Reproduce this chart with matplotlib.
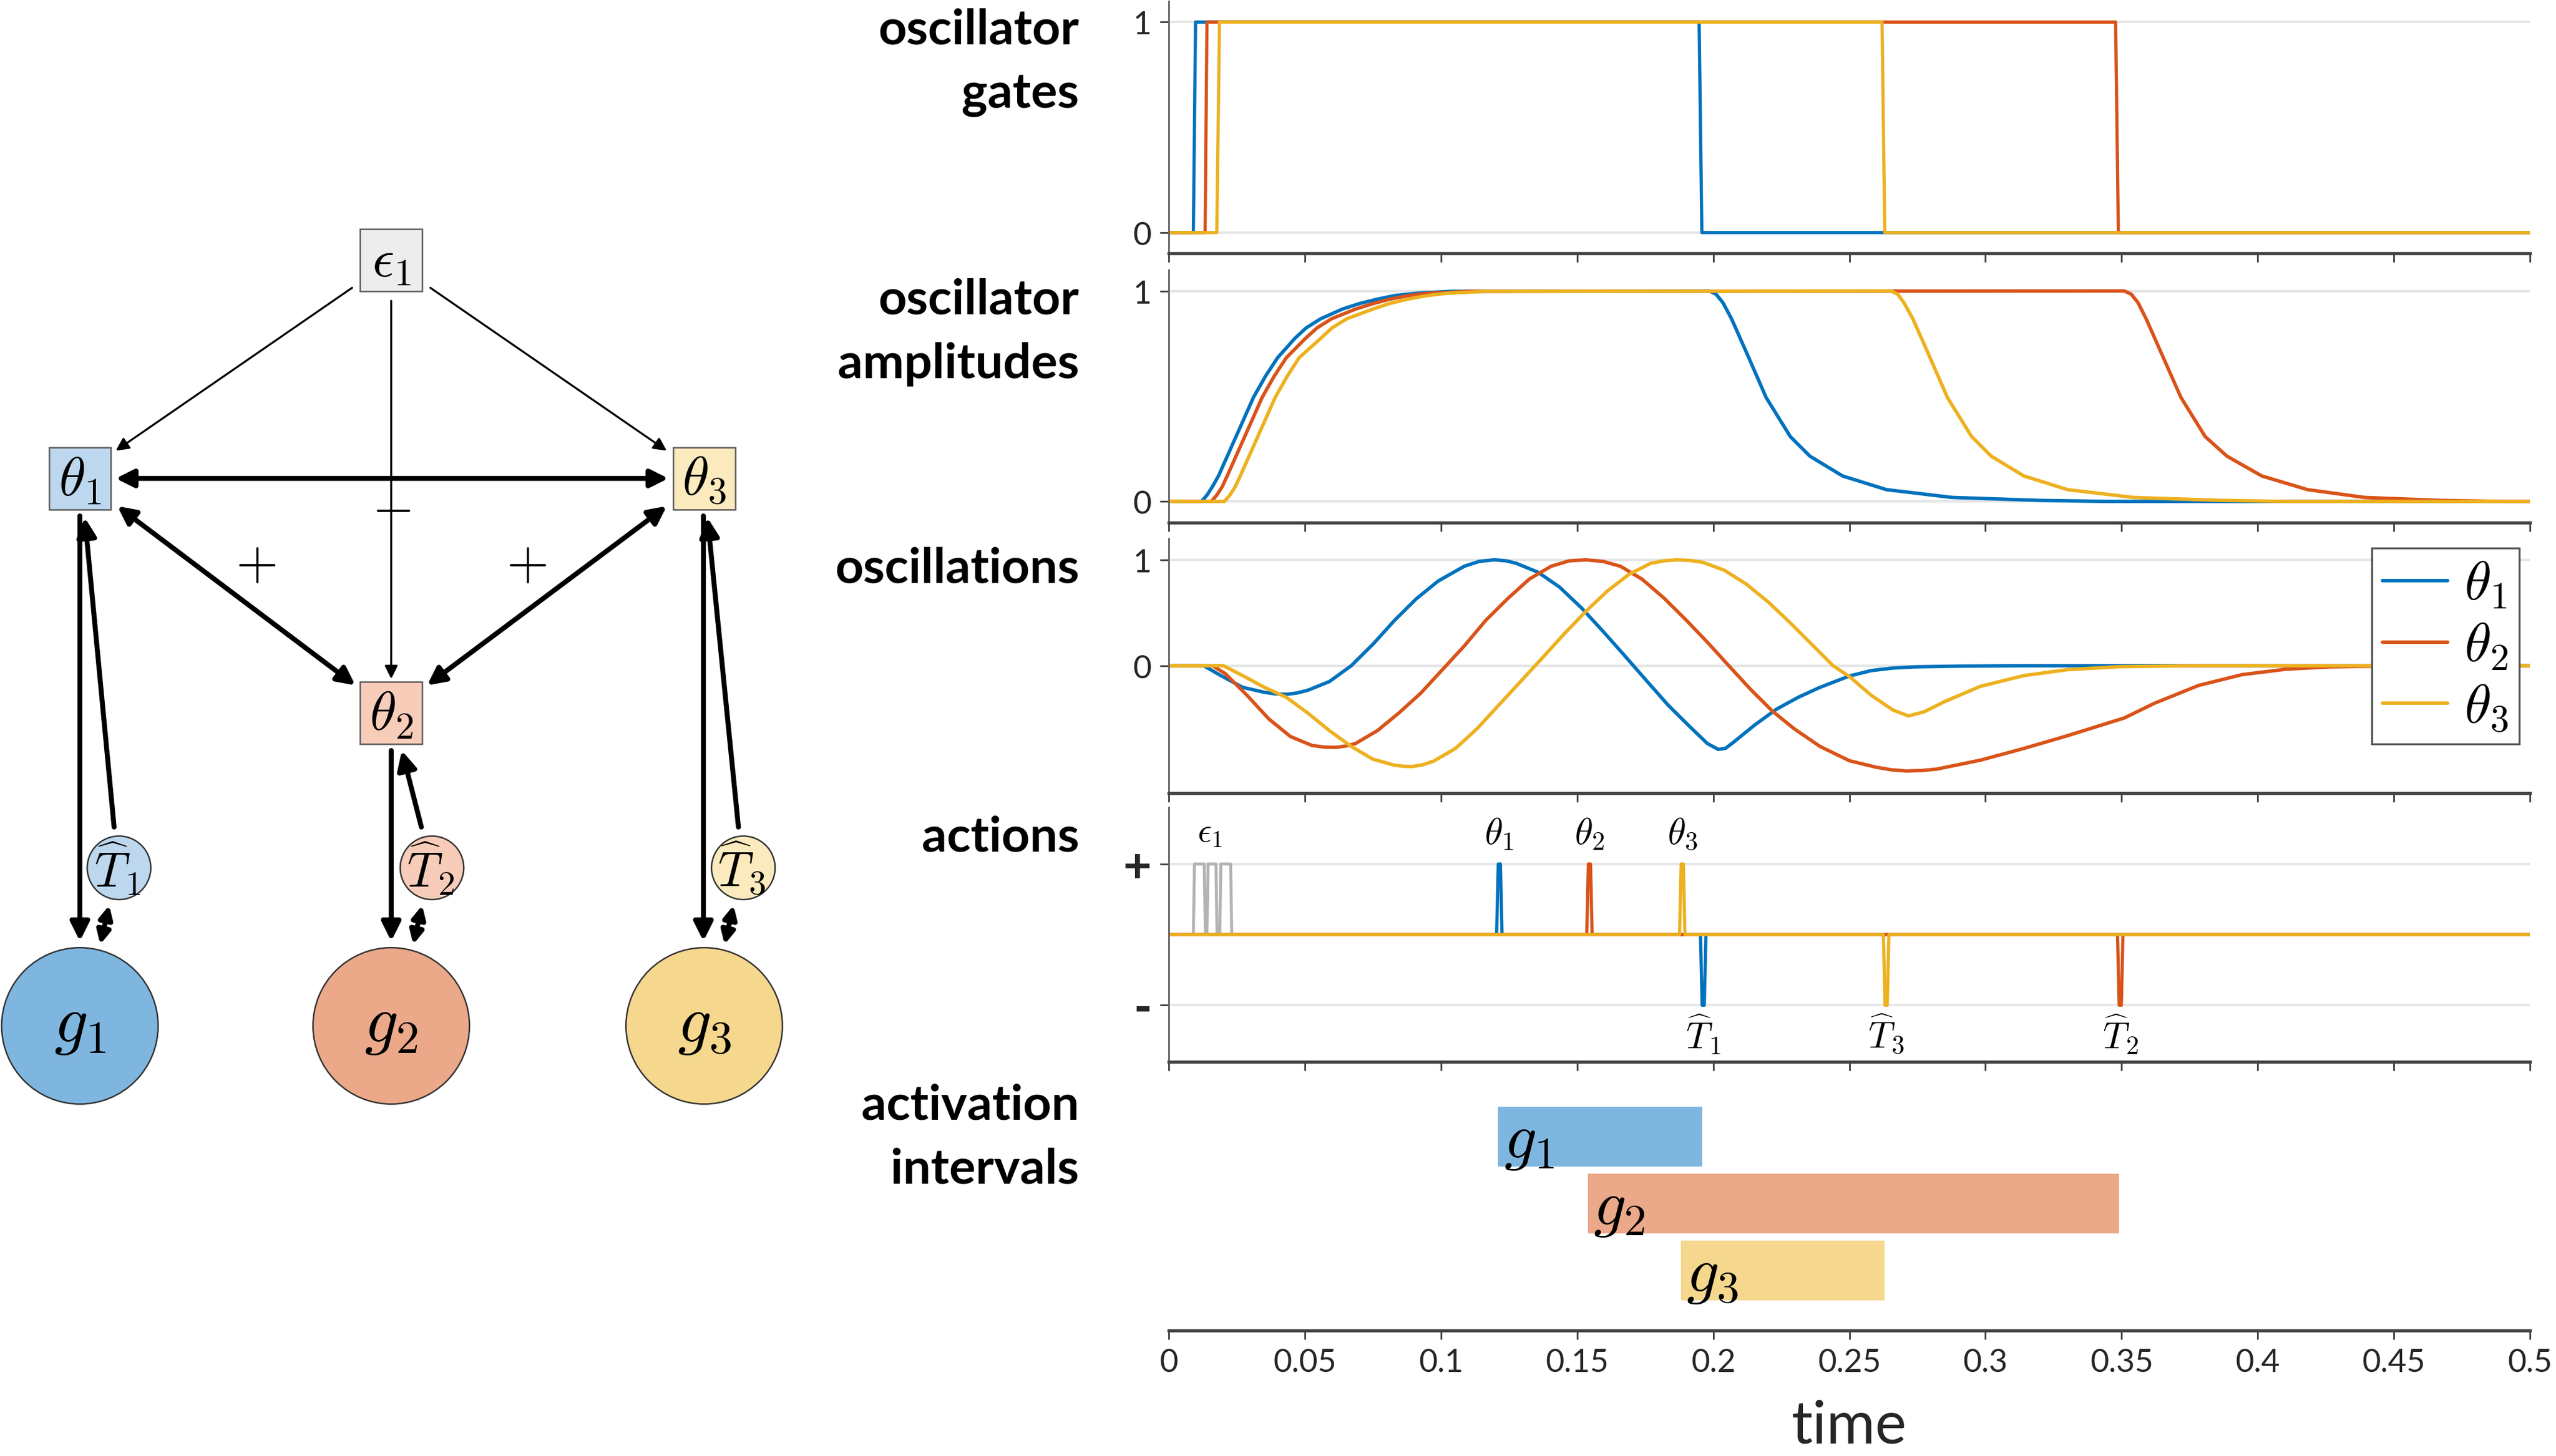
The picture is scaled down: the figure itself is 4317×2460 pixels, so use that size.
import numpy as np
import matplotlib.pyplot as plt
from matplotlib.patches import Rectangle, Circle, FancyArrowPatch

plt.rcParams['font.family'] = ['Lato', 'DejaVu Sans']
plt.rcParams['mathtext.fontset'] = 'cm'

# ---- data ----
labels = [r'$\theta_1$', r'$\theta_2$', r'$\theta_3$']
line_colors = ['#0072BD', '#D95319', '#EDB120']
gray = '#B3B3B3'

# oscillator gates
gate1_t = [0, 0.0090, 0.0098, 0.1948, 0.1958, 0.5]
gate2_t = [0, 0.0133, 0.0140, 0.3478, 0.3488, 0.5]
gate3_t = [0, 0.0176, 0.0186, 0.2620, 0.2630, 0.5]
gate_v = [0, 0, 1, 1, 0, 0]

# oscillator amplitudes
amp1_t = [0, 0.0120, 0.0140, 0.0160, 0.0183, 0.0247, 0.0311, 0.0355, 0.0399, 0.0463, 0.0505, 0.0558,
          0.0638, 0.0700, 0.0766, 0.0830, 0.0909, 0.1037, 0.1986, 0.2010, 0.2035, 0.2067, 0.2131,
          0.2194, 0.2283, 0.2355, 0.2475, 0.2636, 0.2876, 0.3197, 0.3450, 0.5]
amp1_v = [0, 0, 0.03, 0.07, 0.123, 0.309, 0.495, 0.595, 0.682, 0.775, 0.825, 0.868,
          0.914, 0.940, 0.961, 0.978, 0.989, 0.998, 1.0, 0.985, 0.945, 0.868, 0.681,
          0.494, 0.308, 0.215, 0.121, 0.056, 0.019, 0.005, 0, 0]
amp2_t = [0, 0.0156, 0.0176, 0.0196, 0.0215, 0.0279, 0.0343, 0.0387, 0.0431, 0.0502, 0.0545, 0.0598,
          0.0686, 0.0750, 0.0813, 0.0880, 0.0957, 0.1100, 0.3510, 0.3535, 0.3560, 0.3590, 0.3654,
          0.3718, 0.3807, 0.3887, 0.4015, 0.4183, 0.4392, 0.4665, 0.4900, 0.5]
amp2_v = [0, 0, 0.03, 0.07, 0.123, 0.309, 0.495, 0.595, 0.682, 0.775, 0.825, 0.868,
          0.914, 0.940, 0.961, 0.978, 0.989, 0.998, 1.0, 0.985, 0.945, 0.868, 0.681,
          0.494, 0.308, 0.215, 0.121, 0.056, 0.019, 0.005, 0, 0]
amp3_t = [0, 0.0204, 0.0224, 0.0244, 0.0263, 0.0327, 0.0391, 0.0435, 0.0478, 0.0558, 0.0600, 0.0654,
          0.0750, 0.0810, 0.0877, 0.0950, 0.1020, 0.1164, 0.2652, 0.2677, 0.2700, 0.2733, 0.2797,
          0.2860, 0.2949, 0.3021, 0.3141, 0.3302, 0.3542, 0.3863, 0.4100, 0.5]
amp3_v = [0, 0, 0.03, 0.07, 0.123, 0.309, 0.495, 0.595, 0.682, 0.775, 0.825, 0.868,
          0.914, 0.940, 0.961, 0.978, 0.989, 0.998, 1.0, 0.985, 0.945, 0.868, 0.681,
          0.494, 0.308, 0.215, 0.121, 0.056, 0.019, 0.005, 0, 0]

# oscillations
osc1_t = [0, 0.0128, 0.0191, 0.0271, 0.0351, 0.0390, 0.0431, 0.0470, 0.0510, 0.0590, 0.0670, 0.0750,
          0.0829, 0.0909, 0.0989, 0.1085, 0.1140, 0.1196, 0.1240, 0.1276, 0.1356, 0.1435, 0.1515,
          0.1595, 0.1675, 0.1754, 0.1834, 0.1914, 0.1978, 0.2018, 0.2045, 0.2073, 0.2153, 0.2233,
          0.2313, 0.2392, 0.2500, 0.2580, 0.2660, 0.2740, 0.2900, 0.3140, 0.5]
osc1_v = [0, 0, -0.093, -0.204, -0.251, -0.265, -0.270, -0.258, -0.232, -0.149, 0, 0.204,
          0.428, 0.632, 0.799, 0.939, 0.985, 1.0, 0.990, 0.967, 0.883, 0.743, 0.548,
          0.325, 0.093, -0.139, -0.372, -0.576, -0.734, -0.790, -0.780, -0.725, -0.558, -0.409,
          -0.297, -0.204, -0.097, -0.046, -0.022, -0.011, -0.004, 0, 0]
osc2_t = [0, 0.0160, 0.0207, 0.0287, 0.0367, 0.0447, 0.0526, 0.0570, 0.0614, 0.0650, 0.0686, 0.0766,
          0.0845, 0.0925, 0.1005, 0.1085, 0.1164, 0.1244, 0.1324, 0.1404, 0.1470, 0.1531, 0.1595,
          0.1659, 0.1738, 0.1818, 0.1898, 0.1978, 0.2057, 0.2137, 0.2217, 0.2297, 0.2392, 0.2500,
          0.2596, 0.2652, 0.2708, 0.2765, 0.2821, 0.2981, 0.3141, 0.3302, 0.3510, 0.3622, 0.3783,
          0.3943, 0.4103, 0.4264, 0.4500, 0.5]
osc2_v = [0, 0, -0.074, -0.279, -0.502, -0.669, -0.753, -0.768, -0.771, -0.758, -0.734, -0.613,
          -0.446, -0.260, -0.037, 0.186, 0.428, 0.632, 0.818, 0.939, 0.990, 1.0, 0.985,
          0.939, 0.818, 0.641, 0.437, 0.223, 0, -0.223, -0.428, -0.595, -0.762, -0.897,
          -0.957, -0.982, -0.994, -0.990, -0.976, -0.892, -0.781, -0.660, -0.493, -0.353, -0.186,
          -0.084, -0.033, -0.011, -0.002, 0]
osc3_t = [0, 0.0200, 0.0271, 0.0351, 0.0431, 0.0510, 0.0590, 0.0670, 0.0750, 0.0829, 0.0861, 0.0893,
          0.0933, 0.0973, 0.1053, 0.1132, 0.1212, 0.1292, 0.1372, 0.1451, 0.1531, 0.1611, 0.1691,
          0.1770, 0.1818, 0.1866, 0.1914, 0.1962, 0.2041, 0.2121, 0.2201, 0.2281, 0.2361, 0.2440,
          0.2500, 0.2580, 0.2660, 0.2716, 0.2773, 0.2853, 0.2981, 0.3141, 0.3302, 0.3494, 0.3780, 0.5]
osc3_v = [0, 0, -0.093, -0.204, -0.297, -0.446, -0.613, -0.762, -0.883, -0.939, -0.949, -0.952,
          -0.935, -0.901, -0.781, -0.595, -0.372, -0.149, 0.074, 0.297, 0.511, 0.706, 0.864,
          0.967, 0.990, 1.0, 0.994, 0.976, 0.901, 0.771, 0.604, 0.409, 0.204, 0,
          -0.102, -0.279, -0.418, -0.474, -0.437, -0.335, -0.195, -0.093, -0.037, -0.009, 0, 0]

# actions (spikes)
act_eps_t = [0, 0.0090, 0.0094, 0.0130, 0.0134, 0.0140, 0.0144, 0.0173, 0.0177,
             0.0187, 0.0191, 0.0227, 0.0231, 0.5]
act_eps_v = [0, 0, 1, 1, 0, 0, 1, 1, 0, 0, 1, 1, 0, 0]
act1_t = [0, 0.1204, 0.1210, 0.1218, 0.1224, 0.1953, 0.1959, 0.1967, 0.1973, 0.5]
act2_t = [0, 0.1535, 0.1541, 0.1549, 0.1555, 0.3485, 0.3491, 0.3499, 0.3505, 0.5]
act3_t = [0, 0.1876, 0.1882, 0.1890, 0.1896, 0.2625, 0.2631, 0.2639, 0.2645, 0.5]
act_v = [0, 0, 1, 1, 0, 0, -1, -1, 0, 0]
up_times = [0.1214, 0.1545, 0.1886]
down_times = [0.1963, 0.3495, 0.2635]
eps_time = 0.0150

# activation intervals
g_labels = [r'$g_1$', r'$g_2$', r'$g_3$']
g_start = [0.121, 0.154, 0.188]
g_end = [0.196, 0.349, 0.263]

xtick_vals = [0, 0.05, 0.1, 0.15, 0.2, 0.25, 0.3, 0.35, 0.4, 0.45, 0.5]
xtick_labels = ['0', '0.05', '0.1', '0.15', '0.2', '0.25', '0.3', '0.35', '0.4', '0.45', '0.5']

light_fill = ['#BDD7EE', '#F7CDBA', '#FCEABF']
dark_fill = ['#7FB6DF', '#EBA98A', '#F5D78E']

fig = plt.figure(figsize=(14.39, 8.2033), dpi=300)

# ---------------- left diagram (coords in 1568x894 layout units) ----------------
dg = fig.add_axes([0, 0, 1, 1])
dg.set_xlim(0, 1568)
dg.set_ylim(894, 0)
dg.axis('off')

boxes = {'e1': (240, 160), 'th1': (49, 294), 'th2': (240, 438), 'th3': (432, 294)}
box_fill = {'e1': '#EDEDED', 'th1': light_fill[0], 'th2': light_fill[1], 'th3': light_fill[2]}
box_text = {'e1': r'$\epsilon_1$', 'th1': r'$\theta_1$', 'th2': r'$\theta_2$', 'th3': r'$\theta_3$'}
for k, (cx, cy) in boxes.items():
    dg.add_patch(Rectangle((cx - 19, cy - 19), 38, 38, facecolor=box_fill[k],
                           edgecolor='#5a5a5a', lw=0.6))
    dg.text(cx, cy + 1, box_text[k], ha='center', va='center', fontsize=22)

small_c = [(73, 533), (265, 533), (456, 533)]
big_c = [(49, 630), (240, 630), (432, 630)]
for i in range(3):
    dg.add_patch(Circle(small_c[i], 19.5, facecolor=light_fill[i], edgecolor='#333333', lw=0.6))
    dg.text(small_c[i][0] - 1, small_c[i][1], r'$\widehat{T}_%d$' % (i + 1),
            ha='center', va='center', fontsize=20)
    dg.add_patch(Circle(big_c[i], 48, facecolor=dark_fill[i], edgecolor='#333333', lw=0.6))
    dg.text(big_c[i][0], big_c[i][1], r'$g_%d$' % (i + 1), ha='center', va='center', fontsize=27)


def arrow(a, b, style='-|>', lw=2.0, ms=16):
    dg.add_patch(FancyArrowPatch(a, b, arrowstyle=style, mutation_scale=ms, lw=lw,
                                 color='k', shrinkA=0, shrinkB=0))


# thin arrows from epsilon
arrow((216, 177), (71, 277), lw=0.8, ms=11)
arrow((264, 177), (409, 277), lw=0.8, ms=11)
arrow((240, 185), (240, 417), lw=0.8, ms=11)
# thick coupling arrows
arrow((71, 294), (410, 294), style='<|-|>', lw=2.0, ms=15)
arrow((72, 311), (218, 421), style='<|-|>', lw=2.0, ms=15)
arrow((409, 311), (262, 421), style='<|-|>', lw=2.0, ms=15)
# vertical arrows to goals
arrow((49, 317), (49, 578))
arrow((70, 508), (52, 318))
arrow((67, 556), (61.5, 580), style='<|-|>', ms=11)
arrow((240, 461), (240, 578))
arrow((258.5, 508), (246.5, 461))
arrow((259, 556), (253.5, 580), style='<|-|>', ms=11)
arrow((431.5, 317), (431.5, 578))
arrow((453, 508), (434, 318))
arrow((450, 556), (444.5, 580), style='<|-|>', ms=11)

dg.text(240, 312, r'$-$', ha='center', va='center', fontsize=22)
dg.text(157, 346, r'$+$', ha='center', va='center', fontsize=22)
dg.text(323, 346, r'$+$', ha='center', va='center', fontsize=22)

# ---------------- right panels ----------------
left, width = 0.4573, 0.5325
ax1 = fig.add_axes([left, 0.8255, width, 0.1734])
ax2 = fig.add_axes([left, 0.6409, width, 0.1734])
ax3 = fig.add_axes([left, 0.4553, width, 0.1745])
ax4 = fig.add_axes([left, 0.2707, width, 0.1745])
ax5 = fig.add_axes([left, 0.0861, width, 0.1745])

for ax in [ax1, ax2, ax3, ax4, ax5]:
    ax.set_xlim(0, 0.5)
    ax.set_xticks(xtick_vals)
    ax.spines['top'].set_visible(False)
    ax.spines['right'].set_visible(False)
    ax.spines['bottom'].set_color('#444444')
    ax.spines['bottom'].set_linewidth(1.3)
    ax.spines['left'].set_color('#666666')
    ax.spines['left'].set_linewidth(0.7)
    ax.tick_params(direction='out', length=3.5, width=0.7, colors='#444444',
                   labelcolor='#262626', labelsize=13)
    ax.grid(axis='y', color='#E6E6E6', lw=1.0)
    ax.set_axisbelow(True)
    if ax is not ax5:
        ax.set_xticklabels([])

line_kw = dict(lw=1.4, solid_joinstyle='round', solid_capstyle='round')

for t, c in zip([gate1_t, gate2_t, gate3_t], line_colors):
    ax1.plot(t, gate_v, color=c, lw=1.3)
ax1.set_ylim(-0.1, 1.1)
ax1.set_yticks([0, 1])
ax1.set_yticklabels(['0', '1'])

for t, v, c in zip([amp1_t, amp2_t, amp3_t], [amp1_v, amp2_v, amp3_v], line_colors):
    ax2.plot(t, v, color=c, **line_kw)
ax2.set_ylim(-0.1, 1.1)
ax2.set_yticks([0, 1])
ax2.set_yticklabels(['0', '1'])

for t, v, c, lab in zip([osc1_t, osc2_t, osc3_t], [osc1_v, osc2_v, osc3_v], line_colors, labels):
    ax3.plot(t, v, color=c, label=lab, **line_kw)
ax3.set_ylim(-1.2, 1.2)
ax3.set_yticks([0, 1])
ax3.set_yticklabels(['0', '1'])
leg = ax3.legend(loc='upper right', bbox_to_anchor=(0.992, 0.962), borderaxespad=0,
                 fontsize=22, handlelength=1.2, handletextpad=0.3, labelspacing=0.2,
                 borderpad=0.2, fancybox=False, framealpha=1)
leg.get_frame().set_edgecolor('#555555')
leg.get_frame().set_linewidth(0.8)

ax4.plot(act_eps_t, act_eps_v, color=gray, lw=1.2)
for t, c in zip([act1_t, act2_t, act3_t], line_colors):
    ax4.plot(t, act_v, color=c, lw=1.3)
ax4.set_ylim(-1.8, 1.8)
ax4.set_yticks([-1, 1])
ax4.set_yticklabels(['-', '+'], fontsize=20, fontweight='bold')
ax4.text(eps_time, 1.45, r'$\epsilon_1$', ha='center', va='center', fontsize=14)
for i in range(3):
    ax4.text(up_times[i], 1.43, r'$\theta_%d$' % (i + 1), ha='center', va='center', fontsize=15)
    ax4.text(down_times[i], -1.4, r'$\widehat{T}_%d$' % (i + 1), ha='center', va='center',
             fontsize=15)

for i in range(3):
    y = 3 - i
    ax5.barh(y, g_end[i] - g_start[i], left=g_start[i], height=0.9, color=dark_fill[i])
    ax5.text(g_start[i] + 0.002, y - 0.08, g_labels[i], ha='left', va='center', fontsize=26)
ax5.set_ylim(0.1, 3.9)
ax5.set_yticks([])
ax5.grid(False)
ax5.spines['left'].set_visible(False)
ax5.set_xticklabels(xtick_labels)
ax5.set_xlabel('time', fontsize=24, color='#262626', labelpad=9)

row_labels = [('oscillator\ngates', 0.957), ('oscillator\namplitudes', 0.772),
              ('oscillations', 0.6096), ('actions', 0.425), ('activation\nintervals', 0.219)]
for txt, y in row_labels:
    fig.text(0.4222, y, txt, ha='right', va='center', fontsize=20, fontweight='bold',
             linespacing=1.55)

fig.savefig('out.png', dpi=300)
